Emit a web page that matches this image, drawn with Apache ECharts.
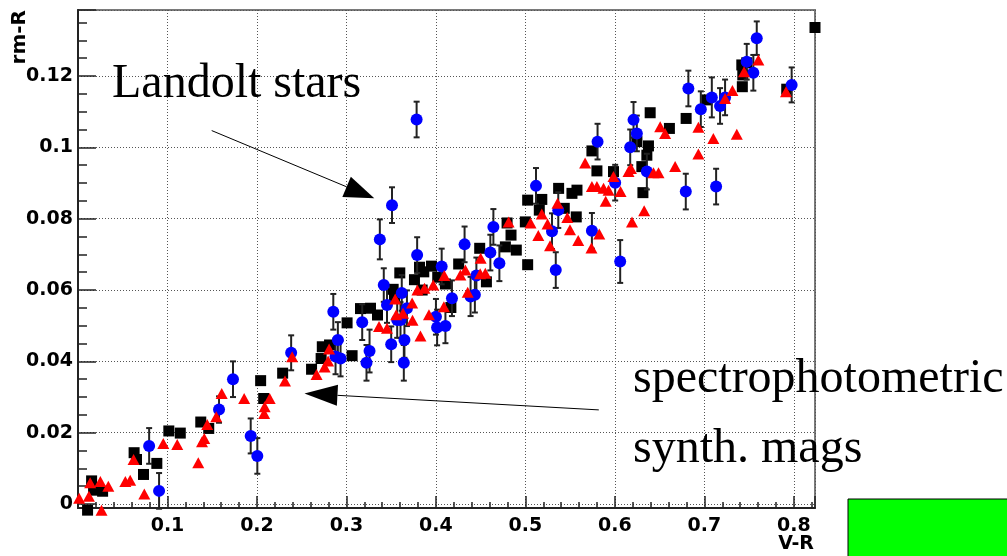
<!DOCTYPE html>
<html>
<head>
<meta charset="utf-8">
<script src="https://cdn.jsdelivr.net/npm/echarts@6/dist/echarts.min.js"></script>
<style>
html,body{margin:0;padding:0;background:#fff;}
#chart{width:1007px;height:556px;}
</style>
</head>
<body>
<div id="chart"></div>
<script>
// ---- data ----
// synthetic magnitudes (black squares): [V-R, rm-R]
const squares = [
[0.0107,-0.0017],[0.0152,0.0065],[0.0174,0.0039],[0.0275,0.0036],[0.0627,0.0144],
[0.0654,0.0125],[0.0732,0.0083],[0.0881,0.0114],[0.1015,0.0205],[0.1143,0.0199],
[0.1372,0.0230],[0.1461,0.0212],[0.2041,0.0346],[0.2075,0.0296],[0.2287,0.0367],
[0.2610,0.0378],[0.2717,0.0408],[0.2730,0.0441],[0.2811,0.0446],[0.3007,0.0508],
[0.3063,0.0416],[0.3157,0.0548],[0.3269,0.0549],[0.3347,0.0530],[0.3522,0.0602],
[0.3537,0.0583],[0.3596,0.0648],[0.3760,0.0629],[0.3816,0.0664],[0.3864,0.0651],
[0.3846,0.0600],[0.3950,0.0667],[0.4020,0.0636],[0.4106,0.0617],[0.4167,0.0551],
[0.4254,0.0673],[0.4489,0.0717],[0.4564,0.0623],[0.4776,0.0721],[0.4839,0.0754],
[0.4795,0.0788],[0.4898,0.0712],[0.4999,0.0791],[0.5025,0.0671],[0.5025,0.0852],
[0.5183,0.0854],[0.5155,0.0824],[0.5434,0.0829],[0.5568,0.0805],[0.5371,0.0885],
[0.5520,0.0871],[0.5576,0.0880],[0.5743,0.0990],[0.5799,0.0934],[0.5984,0.0932],
[0.6246,0.1016],[0.6375,0.1004],[0.6357,0.0978],[0.6301,0.0946],[0.6313,0.0873],
[0.6394,0.1097],[0.6609,0.1053],[0.6796,0.1081],[0.7027,0.1133],[0.7418,0.1231],
[0.7473,0.1237],[0.7429,0.1203],[0.7424,0.1170],[0.7920,0.1163],[0.8236,0.1336]
];
// Landolt stars (blue circles): [V-R, rm-R, error]
const circles = [
[0.0795,0.0163,0.0050],[0.0906,0.0037,0.0050],[0.1576,0.0265,0.0037],[0.1732,0.0350,0.0050],
[0.1930,0.0191,0.0049],[0.2004,0.0135,0.0050],[0.2382,0.0424,0.0049],[0.2853,0.0539,0.0050],
[0.2904,0.0460,0.0050],[0.2934,0.0408,0.0050],[0.2878,0.0414,0.0050],[0.3176,0.0510,0.0050],
[0.3258,0.0429,0.0060],[0.3224,0.0396,0.0050],[0.3373,0.0742,0.0056],[0.3509,0.0838,0.0050],
[0.3784,0.1078,0.0050],[0.3417,0.0614,0.0047],[0.3453,0.0558,0.0050],[0.3500,0.0448,0.0050],
[0.3648,0.0460,0.0050],[0.3641,0.0396,0.0050],[0.3567,0.0516,0.0050],[0.3604,0.0516,0.0050],
[0.3618,0.0592,0.0050],[0.3676,0.0549,0.0050],[0.3790,0.0698,0.0050],[0.4064,0.0666,0.0050],
[0.4000,0.0525,0.0050],[0.4013,0.0495,0.0050],[0.4106,0.0499,0.0048],[0.4179,0.0577,0.0050],
[0.4320,0.0728,0.0050],[0.4387,0.0582,0.0055],[0.4435,0.0587,0.0050],[0.4452,0.0641,0.0050],
[0.4608,0.0705,0.0050],[0.4642,0.0777,0.0050],[0.4709,0.0675,0.0050],[0.5118,0.0892,0.0050],
[0.5297,0.0765,0.0050],[0.5339,0.0656,0.0050],[0.5367,0.0824,0.0050],[0.5743,0.0766,0.0050],
[0.5806,0.1016,0.0050],[0.6003,0.0901,0.0050],[0.6059,0.0680,0.0060],[0.6171,0.1000,0.0050],
[0.6208,0.1077,0.0050],[0.6245,0.1039,0.0050],[0.6357,0.0932,0.0050],[0.6792,0.0876,0.0050],
[0.6821,0.1165,0.0050],[0.6960,0.1107,0.0050],[0.7083,0.1140,0.0056],[0.7131,0.0890,0.0050],
[0.7175,0.1116,0.0050],[0.7231,0.1140,0.0050],[0.7473,0.1240,0.0050],[0.7547,0.1209,0.0050],
[0.7585,0.1306,0.0047],[0.7975,0.1175,0.0049]
];
// spectrophotometric synthetic mags (red triangles): [V-R, rm-R]
const triangles = [
[0.0013,0.0016],[0.0122,0.0022],[0.0136,0.0060],[0.0263,-0.0017],[0.0250,0.0063],
[0.0339,0.0050],[0.0529,0.0063],[0.0583,0.0067],[0.0621,0.0125],[0.0741,0.0028],
[0.0953,0.0170],[0.1109,0.0167],[0.1344,0.0116],[0.1386,0.0175],[0.1411,0.0184],
[0.1444,0.0223],[0.1545,0.0245],[0.1606,0.0310],[0.1857,0.0296],[0.2080,0.0254],
[0.2086,0.0273],[0.2142,0.0296],[0.2313,0.0345],[0.2393,0.0413],[0.2666,0.0363],
[0.2756,0.0384],[0.2795,0.0401],[0.2806,0.0435],[0.3364,0.0498],[0.3453,0.0493],
[0.3545,0.0575],[0.3556,0.0531],[0.3632,0.0535],[0.3734,0.0564],[0.3738,0.0515],
[0.3827,0.0471],[0.3793,0.0600],[0.3872,0.0605],[0.3922,0.0531],[0.3970,0.0614],
[0.4093,0.0641],[0.4089,0.0553],[0.4273,0.0642],[0.4329,0.0656],[0.4355,0.0594],
[0.4500,0.0689],[0.4494,0.0646],[0.4552,0.0647],[0.4812,0.0791],[0.5057,0.0788],
[0.5144,0.0753],[0.5275,0.0724],[0.5183,0.0813],[0.5247,0.0785],[0.5359,0.0843],
[0.5468,0.0803],[0.5498,0.0769],[0.5590,0.0739],[0.5738,0.0718],[0.5825,0.0757],
[0.5667,0.0956],[0.5743,0.0890],[0.5799,0.0890],[0.5873,0.0885],[0.5897,0.0849],
[0.5929,0.0880],[0.5984,0.0918],[0.6063,0.0876],[0.6152,0.0932],[0.6179,0.0941],
[0.6191,0.0791],[0.6327,0.0822],[0.6431,0.0929],[0.6487,0.0929],[0.6506,0.1058],
[0.6561,0.1039],[0.6673,0.0946],[0.6933,0.1056],[0.6933,0.0981],[0.7100,0.1025],
[0.7231,0.1137],[0.7313,0.1159],[0.7362,0.1037],[0.7443,0.1212],[0.7603,0.1245],
[0.7912,0.1156]
];
// axis ranges and titles
const xRange = [0, 0.8236];
const yRange = [-0.0011, 0.1385];
const xTitle = 'V-R';
const yTitle = 'rm-R';
// annotations: [label lines], arrow [from, to] in data coordinates
const landoltLabel = 'Landolt stars';
const landoltArrow = [[0.1494, 0.1047], [0.3311, 0.0857]];
const spectroLabel = ['spectrophotometric', 'synth. mags'];
const spectroArrow = [[0.5820, 0.0264], [0.2531, 0.0310]];

const chart = echarts.init(document.getElementById('chart'), null, {renderer: 'canvas'});
const labelFont = {fontFamily: 'DejaVu Sans', fontWeight: 'bold', fontSize: 19, color: '#000'};
const fmt = v => String(+(+v).toFixed(2));

const option = {
  animation: false,
  backgroundColor: '#fff',
  grid: {left: 78, right: 192, top: 10, bottom: 48, containLabel: false, outerBoundsMode: 'none',
         show: true, borderColor: '#7a7a7a', borderWidth: 2, backgroundColor: 'transparent'},
  xAxis: {
    type: 'value', min: xRange[0], max: xRange[1], interval: 0.1,
    axisLine: {show: true, onZero: false, lineStyle: {color: '#222', width: 2}},
    axisTick: {show: true, inside: true, length: 12, lineStyle: {color: '#222', width: 1.5}},
    minorTick: {show: true, splitNumber: 5, length: 6, lineStyle: {color: '#222', width: 1.5}},
    splitLine: {show: true, lineStyle: {color: '#555', width: 1, type: [1, 2]}},
    axisLabel: Object.assign({margin: 9, formatter: v => (v < 0.05 || v > 0.81) ? '' : fmt(v)}, labelFont)
  },
  yAxis: {
    type: 'value', min: yRange[0], max: yRange[1], splitNumber: 7,
    axisLine: {show: true, onZero: false, lineStyle: {color: '#222', width: 2}},
    axisTick: {show: true, inside: true, length: 18, lineStyle: {color: '#222', width: 1.5}},
    minorTick: {show: true, splitNumber: 4, length: 9, lineStyle: {color: '#222', width: 1.5}},
    splitLine: {show: true, lineStyle: {color: '#555', width: 1, type: [1, 2]}},
    axisLabel: Object.assign({margin: 5, formatter: v => (v < -0.0005 || v > 0.13) ? '' : fmt(v)}, labelFont)
  },
  series: [
    {
      type: 'scatter', name: 'synth', data: squares, symbol: 'rect', symbolSize: 11,
      itemStyle: {color: '#000', opacity: 1}, clip: false, z: 2
    },
    {
      type: 'custom', name: 'err', data: circles, encode: {x: 0, y: 1}, z: 3, clip: false,
      renderItem: function (params, api) {
        const x = api.value(0), y = api.value(1), e = api.value(2);
        const t = api.coord([x, y + e]), b = api.coord([x, y - e]);
        const cw = 3;
        const st = {stroke: '#222', lineWidth: 2};
        return {type: 'group', children: [
          {type: 'line', shape: {x1: t[0], y1: t[1], x2: b[0], y2: b[1]}, style: st},
          {type: 'line', shape: {x1: t[0] - cw, y1: t[1], x2: t[0] + cw, y2: t[1]}, style: st},
          {type: 'line', shape: {x1: b[0] - cw, y1: b[1], x2: b[0] + cw, y2: b[1]}, style: st}
        ]};
      }
    },
    {
      type: 'scatter', name: 'landolt', data: circles.map(d => [d[0], d[1]]), symbol: 'circle', symbolSize: 12,
      itemStyle: {color: '#0000ff', opacity: 1}, clip: false, z: 4
    },
    {
      type: 'scatter', name: 'spectro', data: triangles, symbol: 'triangle', symbolSize: [12, 11],
      itemStyle: {color: '#ff0000', opacity: 1}, clip: false, z: 5
    }
  ]
};
chart.setOption(option);

function arrow(from, to, L, W) {
  const a = chart.convertToPixel({gridIndex: 0}, from);
  const b = chart.convertToPixel({gridIndex: 0}, to);
  const dx = b[0] - a[0], dy = b[1] - a[1];
  const len = Math.sqrt(dx * dx + dy * dy);
  const ux = dx / len, uy = dy / len;
  const bx = b[0] - ux * L, by = b[1] - uy * L;
  return [
    {type: 'line', z: 20, shape: {x1: a[0], y1: a[1], x2: bx, y2: by}, style: {stroke: '#000', lineWidth: 1}},
    {type: 'polygon', z: 20, shape: {points: [[b[0], b[1]], [bx - uy * W, by + ux * W], [bx + uy * W, by - ux * W]]},
     style: {fill: '#000'}}
  ];
}

const serif = {fontFamily: 'Liberation Serif', fontSize: 48, fill: '#000'};
const graphics = [
  {type: 'text', z: 20, x: 112, y: 84, style: Object.assign({text: landoltLabel, textVerticalAlign: 'middle'}, serif)},
  {type: 'text', z: 20, x: 633, y: 379, style: Object.assign({text: spectroLabel[0], textVerticalAlign: 'middle'}, serif)},
  {type: 'text', z: 20, x: 633, y: 449, style: Object.assign({text: spectroLabel[1], textVerticalAlign: 'middle'}, serif)},
  {type: 'text', z: 20, x: 19.5, y: 10, rotation: Math.PI / 2,
   style: {text: yTitle, fontFamily: 'DejaVu Sans', fontWeight: 'bold', fontSize: 20, fill: '#000',
           textAlign: 'right', textVerticalAlign: 'middle'}},
  {type: 'text', z: 20, x: 814, y: 544,
   style: {text: xTitle, fontFamily: 'DejaVu Sans', fontWeight: 'bold', fontSize: 19, fill: '#000',
           textAlign: 'right', textVerticalAlign: 'middle'}},
  {type: 'rect', z: 20, shape: {x: 848, y: 499, width: 170, height: 70},
   style: {fill: '#00ff00', stroke: '#000', lineWidth: 1}}
].concat(arrow(landoltArrow[0], landoltArrow[1], 30, 11))
 .concat(arrow(spectroArrow[0], spectroArrow[1], 33, 10.5));

chart.setOption({graphic: graphics});
</script>
</body>
</html>
